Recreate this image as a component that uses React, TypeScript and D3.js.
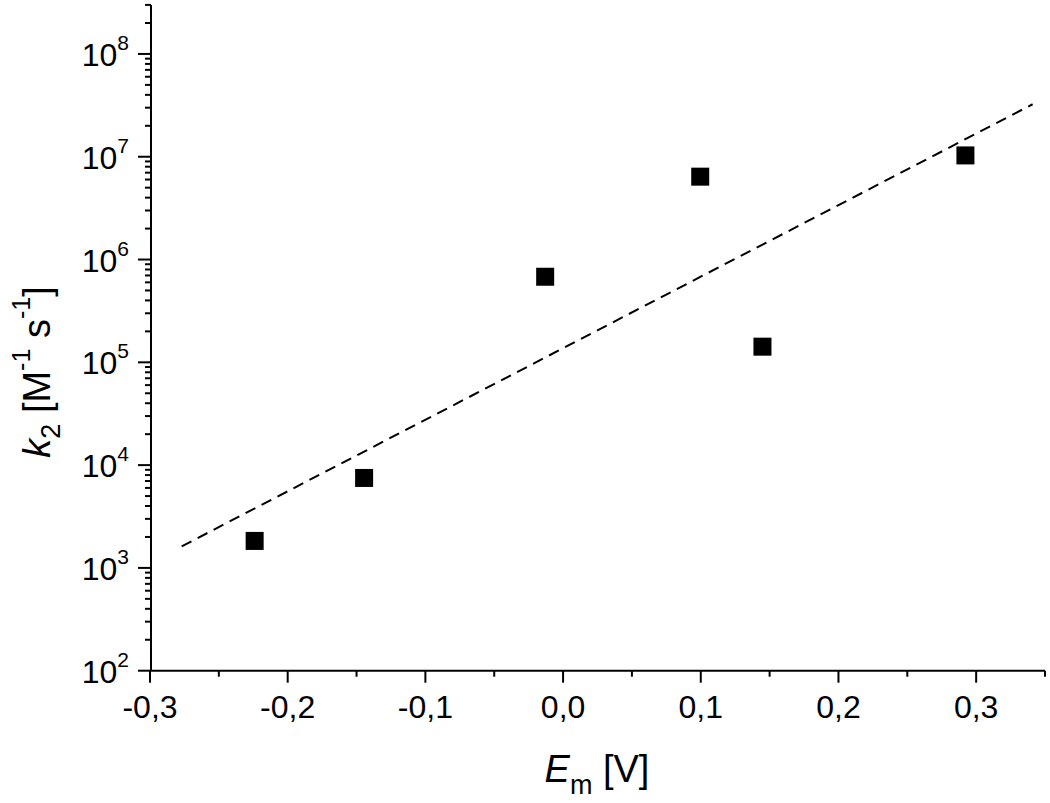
import React from "react";
import * as d3 from "d3";

// Data
const emValues = [-0.224, -0.1445, -0.013, 0.0996, 0.1448, 0.2922];
const k2Values = [1830, 7500, 680000, 6400000, 142000, 10300000];
const fitX = [-0.277, 0.341];
const fitY = [1620, 32400000];
const xMajorTicks = [-0.3, -0.2, -0.1, 0.0, 0.1, 0.2, 0.3];
const xTickLabels = ["-0,3", "-0,2", "-0,1", "0,0", "0,1", "0,2", "0,3"];
const xMinorTicks = [-0.25, -0.15, -0.05, 0.05, 0.15, 0.25, 0.35];
const yExponents = [2, 3, 4, 5, 6, 7, 8];

const W = 1050;
const H = 803;
const FONT = "'Liberation Sans', Arial, Helvetica, sans-serif";

export default function App() {
  const x = d3.scaleLinear().domain([-0.3, 0.35]).range([150, 1045]);
  const y = d3.scaleLog().domain([100, 3e8]).range([670.7, 4.9]);
  const axisX = 151;
  const axisY = 670.7;

  const yMinor: number[] = [];
  for (const e of yExponents) {
    for (let m = 2; m <= 9; m++) {
      const v = m * Math.pow(10, e);
      if (v <= 3e8 + 1) yMinor.push(v);
    }
  }

  const line = d3
    .line<number>()
    .x((_, i) => x(fitX[i]))
    .y((d) => y(d));

  const sq = 18;

  return (
    <svg
      width={W}
      height={H}
      style={{ position: "absolute", left: 0, top: 0, background: "#fff" }}
      fontFamily={FONT}
    >
      <rect x={0} y={0} width={W} height={H} fill="#fff" />
      {/* fit line */}
      <path
        d={line(fitY) || ""}
        fill="none"
        stroke="#000"
        strokeWidth={2}
        strokeDasharray="11 7"
      />
      {/* data points */}
      {emValues.map((v, i) => (
        <rect
          key={i}
          x={x(v) - sq / 2}
          y={y(k2Values[i]) - sq / 2}
          width={sq}
          height={sq}
          fill="#000"
        />
      ))}
      {/* axes */}
      <line x1={axisX} x2={axisX} y1={y(3e8)} y2={axisY} stroke="#000" strokeWidth={2} />
      <line x1={x(-0.3)} x2={x(0.35)} y1={axisY} y2={axisY} stroke="#000" strokeWidth={2} />
      {/* x ticks */}
      {xMajorTicks.map((t, i) => (
        <g key={"xm" + i}>
          <line x1={x(t)} x2={x(t)} y1={axisY} y2={axisY + 12} stroke="#000" strokeWidth={2} />
          <text x={x(t)} y={718} textAnchor="middle" fontSize={32} fill="#000">
            {xTickLabels[i]}
          </text>
        </g>
      ))}
      {xMinorTicks.map((t, i) => (
        <line key={"xn" + i} x1={x(t)} x2={x(t)} y1={axisY} y2={axisY + 6} stroke="#000" strokeWidth={2} />
      ))}
      {/* y ticks */}
      {yExponents.map((e) => (
        <g key={"ym" + e}>
          <line x1={axisX - 13} x2={axisX} y1={y(Math.pow(10, e))} y2={y(Math.pow(10, e))} stroke="#000" strokeWidth={2} />
          <text x={129} y={y(Math.pow(10, e)) + 12} textAnchor="end" fontSize={32} fill="#000">
            10
            <tspan fontSize={21} dy={-16}>
              {e}
            </tspan>
          </text>
        </g>
      ))}
      {yMinor.map((v, i) => (
        <line key={"yn" + i} x1={axisX - 6} x2={axisX} y1={y(v)} y2={y(v)} stroke="#000" strokeWidth={2} />
      ))}
      {/* x axis title */}
      <text x={597} y={782} textAnchor="middle" fontSize={38} fill="#000">
        <tspan fontStyle="italic">E</tspan>
        <tspan fontSize={27} dy={12}>m</tspan>
        <tspan dy={-12}> [V]</tspan>
      </text>
      {/* y axis title */}
      <text transform="translate(50,372) rotate(-90)" textAnchor="middle" fontSize={38} fill="#000">
        <tspan fontStyle="italic">k</tspan>
        <tspan fontSize={27} dy={10}>2</tspan>
        <tspan dy={-10}> [M</tspan>
        <tspan fontSize={25} dy={-20}>-1</tspan>
        <tspan dy={20}> s</tspan>
        <tspan fontSize={25} dy={-20}>-1</tspan>
        <tspan dy={20}>]</tspan>
      </text>
    </svg>
  );
}
